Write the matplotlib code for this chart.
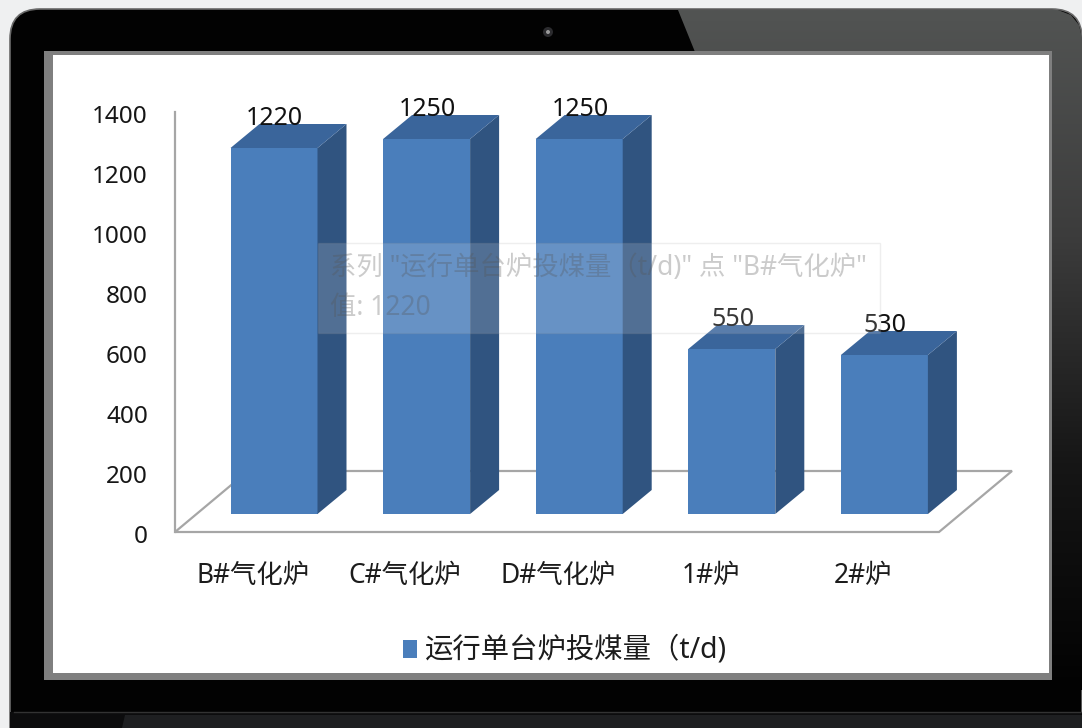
import numpy as np
import matplotlib
matplotlib.use('Agg')
import matplotlib.pyplot as plt
from matplotlib.patches import Rectangle, Polygon, FancyBboxPatch, Circle
from matplotlib.colors import LinearSegmentedColormap
from matplotlib.transforms import ScaledTranslation

plt.rcParams['font.family'] = ['Noto Sans', 'Noto Sans CJK SC', 'DejaVu Sans']

categories = ['B#气化炉', 'C#气化炉', 'D#气化炉', '1#炉', '2#炉']
coal_feed = [1220, 1250, 1250, 550, 530]
y_ticks = [0, 200, 400, 600, 800, 1000, 1200, 1400]
series_name = '运行单台炉投煤量（t/d)'
tooltip_lines = ['系列 "运行单台炉投煤量（t/d)" 点 "B#气化炉"', '值: 1220']

W, H = 1082, 728
FRONT = '#4a7ebb'
TOP = '#3a659b'
SIDE = '#305480'

fig = plt.figure(figsize=(W / 100, H / 100), dpi=100, facecolor='#eff0f1')

# laptop frame, in pixel coordinates
bg = fig.add_axes([0, 0, 1, 1])
bg.set_xlim(0, W)
bg.set_ylim(H, 0)
bg.axis('off')

bg.add_patch(FancyBboxPatch((10, 9), 1072, 760, boxstyle='round,pad=0,rounding_size=30',
                            fc='#020202', ec='#6a6a6a', lw=1.2, zorder=1))

# glare across the top right of the bezel
grey_fade = LinearSegmentedColormap.from_list('fade', ['#525453', '#3c3c3c', '#161616', '#020202'])
grad = bg.imshow(np.linspace(0, 1, 256).reshape(-1, 1), cmap=grey_fade, extent=(0, W, 690, 10),
                 aspect='auto', zorder=1.5)
glare = Polygon([(678, 10), (695, 52), (1050, 52), (1050, 690), (1082, 690), (1082, 38),
                 (1079, 25), (1071, 15), (1058, 10)],
                fc='none', ec='none', transform=bg.transData)
bg.add_patch(glare)
grad.set_clip_path(glare)
bg.set_xlim(0, W)
bg.set_ylim(H, 0)

# lower hinge strip
bg.add_patch(Rectangle((10, 712), W, 16, fc='#0c0c0d', ec='none', zorder=2))
bg.add_patch(Polygon([(122, 728), (125, 715), (W, 715), (W, 728)], fc='#1e1f21', ec='none', zorder=2.1))
bg.plot([14, W], [712, 712], color='#333333', lw=1, zorder=2.2)

# camera
bg.add_patch(Circle((548, 32), 5, fc='#2b2b2e', ec='none', zorder=2))
bg.add_patch(Circle((548, 32), 2, fc='#9a9a9a', ec='none', zorder=2.1))

# screen and its grey edge
bg.add_patch(Rectangle((44, 51), 1008, 629, fc='#7f7f7f', ec='none', zorder=3))
bg.add_patch(Rectangle((53, 55), 996, 618, fc='white', ec='none', zorder=3.1))

# floor of the 3d plot
bg.add_patch(Polygon([(175, 532), (939, 532), (1012, 471), (248, 471)], closed=True,
                     fc='white', ec='#a6a6a6', lw=1.6, zorder=4))

# value axis runs up the left wall
yax = fig.add_axes([175 / W, 1 - 532 / H, 0.001, (532 - 112) / H])
yax.patch.set_alpha(0)
yax.set_ylim(0, 1400)
yax.set_xticks([])
yax.set_yticks(y_ticks)
yax.tick_params(axis='y', length=0, pad=19.5, labelsize=17.5, labelcolor='#161616')
# labels sit slightly below their tick height
nudge = ScaledTranslation(0, -2 / 100, fig.dpi_scale_trans)
for label in yax.get_yticklabels():
    label.set_transform(label.get_transform() + nudge)
for s in ['top', 'right', 'bottom']:
    yax.spines[s].set_visible(False)
yax.spines['left'].set_color('#a6a6a6')
yax.spines['left'].set_linewidth(1.6)

# bars share the value scale of the axis, 0.3 px per unit
SPACING = 152.6
PX_PER_UNIT = 0.3
X0, BASE = 274, 514
ax = fig.add_axes([0, 0, 1, 1])
ax.patch.set_alpha(0)
ax.axis('off')
ax.set_xlim(-X0 / SPACING, (W - X0) / SPACING)
ax.set_ylim(-(H - BASE) / PX_PER_UNIT, BASE / PX_PER_UNIT)

bar_w = 87 / SPACING
dx = 29 / SPACING
dy = 24 / PX_PER_UNIT
x = np.arange(len(categories))
ax.bar(x, coal_feed, width=bar_w, color=FRONT, zorder=5)
for xi, v, name in zip(x, coal_feed, categories):
    l, r = xi - bar_w / 2, xi + bar_w / 2
    ax.add_patch(Polygon([(r, 0), (r + dx, dy), (r + dx, v + dy), (r, v)], fc=SIDE, ec='none', zorder=5))
    ax.add_patch(Polygon([(l, v), (l + dx, v + dy), (r + dx, v + dy), (r, v)], fc=TOP, ec='none', zorder=5))
    ax.text(xi + 0.005, v + 98, str(v), ha='center', va='center', fontsize=18, color='#111111', zorder=6)
    ax.text(xi - 0.14, -207, name, ha='center', va='center', fontsize=19, color='#1c1c1c', zorder=6)

# legend
bg.add_patch(Rectangle((403, 640), 14, 18, fc=FRONT, ec='none', zorder=4))
bg.text(425, 650, series_name, ha='left', va='center', fontsize=20.4, color='#1c1c1c', zorder=4)

# hover tooltip left over the bars
ax.add_patch(Rectangle(((318 - X0) / SPACING, (BASE - 333) / PX_PER_UNIT),
                       562 / SPACING, 90 / PX_PER_UNIT, fc='white', alpha=0.16,
                       ec='#999999', lw=1, zorder=7))
ax.text((330 - X0) / SPACING, (BASE - 268) / PX_PER_UNIT, tooltip_lines[0], fontsize=19, va='center',
        color='#555555', alpha=0.3, zorder=8)
ax.text((330 - X0) / SPACING, (BASE - 308) / PX_PER_UNIT, tooltip_lines[1], fontsize=19, va='center',
        color='#555555', alpha=0.3, zorder=8)

fig.savefig('out.png', dpi=100)
